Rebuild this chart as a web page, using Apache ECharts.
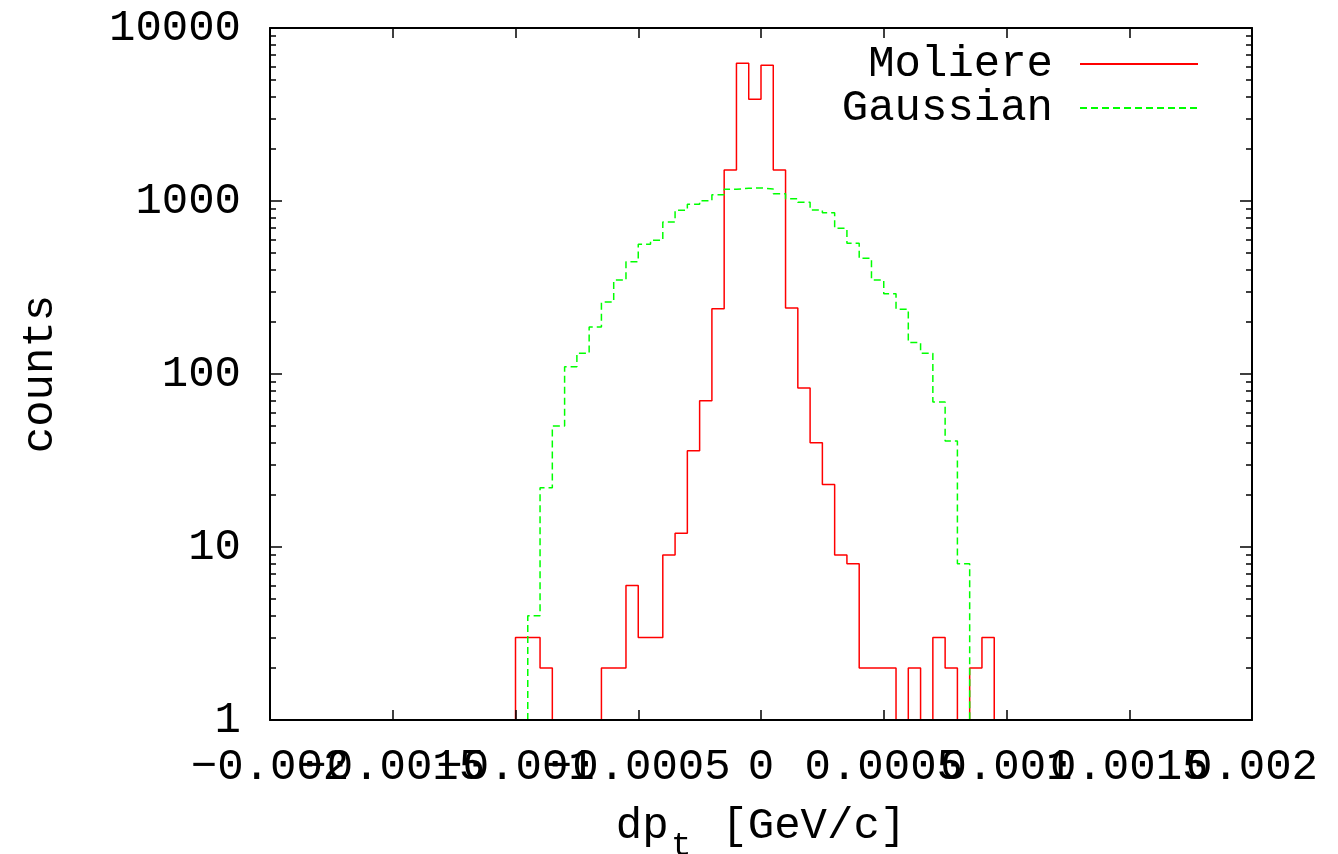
<!DOCTYPE html>
<html>
<head>
<meta charset="utf-8">
<script src="https://cdn.jsdelivr.net/npm/echarts@6/dist/echarts.min.js"></script>
<style>
  html, body { margin: 0; padding: 0; background: #fff; }
  #chart { width: 1338px; height: 854px; }
</style>
</head>
<body>
<div id="chart"></div>
<script>
// histogram bins (lower edges start at *Start, width binWidth)
const binWidth = 0.00005;
const moliereStart = -0.001;
const moliereCounts = [3, 3, 2, 1, 1, 1, 1, 2, 2, 6, 3, 3, 9, 12, 36, 70, 238, 1510, 6250, 3870,
  6090, 1510, 241, 83, 40, 23, 9, 8, 2, 2, 2, 1, 2, 1, 3, 2, 1, 2, 3];
const gaussianStart = -0.00095;
const gaussianCounts = [4, 22, 50, 110, 132, 187, 261, 349, 446, 562, 593, 756, 884, 957, 1004,
  1087, 1169, 1184, 1190, 1175, 1102, 1031, 983, 887, 856, 695, 570, 466, 349, 291, 237, 152,
  132, 69, 41, 8];

// tick labels; x labels split in two rows of values so none get dropped
const xLabelsEven = [-0.002, -0.001, 0, 0.001, 0.002];
const xLabelsOdd = [-0.0015, -0.0005, 0.0005, 0.0015];
const yMajorTicks = [1, 10, 100, 1000, 10000];
const yMinorTicks = [2, 3, 4, 5, 6, 7, 8, 9, 20, 30, 40, 50, 60, 70, 80, 90,
  200, 300, 400, 500, 600, 700, 800, 900, 2000, 3000, 4000, 5000, 6000, 7000, 8000, 9000];

const FONT = "Liberation Mono";
const FS = 44;

// turn bin counts into points for a step line
function toSteps(start, counts) {
  const pts = [[start, 1]];
  counts.forEach((c, i) => pts.push([start + i * binWidth, c]));
  pts.push([start + counts.length * binWidth, 1]);
  return pts;
}

function xAxisOf(position, showLine, labels, withName) {
  return {
    type: "value",
    position: position,
    min: -0.002,
    max: 0.002,
    interval: 0.0005,
    z: 5,
    axisLine: { show: showLine, onZero: false, lineStyle: { color: "#000", width: 2 } },
    axisTick: { show: showLine, inside: true, length: 10, lineStyle: { color: "#000", width: 1.5 } },
    axisLabel: {
      show: !!labels,
      customValues: labels || undefined,
      hideOverlap: false,
      margin: 25,
      color: "#000",
      fontFamily: FONT,
      fontSize: FS,
      formatter: v => String(+Number(v).toFixed(4)).replace("-", "\u2212")
    },
    splitLine: { show: false },
    // the subscript "t" is added as a separate text below
    name: withName ? "dp  [GeV/c]" : "",
    nameLocation: "middle",
    nameGap: 84,
    nameTextStyle: { color: "#000", fontFamily: FONT, fontSize: FS }
  };
}

function yAxisOf(position, ticks, len, showLine, showLabels) {
  return {
    type: "log",
    logBase: 10,
    position: position,
    min: 1,
    max: 10000,
    z: 5,
    axisLine: { show: showLine, onZero: false, lineStyle: { color: "#000", width: 2 } },
    axisTick: { show: true, inside: true, length: len, customValues: ticks,
                lineStyle: { color: "#000", width: 1.5 } },
    axisLabel: {
      show: showLabels,
      customValues: yMajorTicks,
      margin: 29,
      color: "#000",
      fontFamily: FONT,
      fontSize: FS,
      formatter: v => String(Math.round(v))
    },
    splitLine: { show: false },
    minorTick: { show: false },
    name: showLabels ? "counts" : "",
    nameLocation: "middle",
    nameGap: 208,
    nameTextStyle: { color: "#000", fontFamily: FONT, fontSize: FS }
  };
}

const chart = echarts.init(document.getElementById("chart"));
chart.setOption({
  animation: false,
  backgroundColor: "#fff",
  grid: { left: 270, right: 86, top: 28, bottom: 134, outerBoundsMode: "none" },
  legend: {
    orient: "vertical",
    align: "right",
    right: 134,
    top: 37,
    itemWidth: 118,
    itemHeight: 43,
    itemGap: 0,
    selectedMode: false,
    itemStyle: { opacity: 0 },
    textStyle: { color: "#000", fontFamily: FONT, fontSize: FS, lineHeight: 43, padding: [0, 22, 0, 0] },
    data: ["Moliere", "Gaussian"]
  },
  graphic: [
    {
      type: "text",
      left: 671,
      top: 829,
      style: { text: "t", fill: "#000", font: "34px 'Liberation Mono'" }
    }
  ],
  xAxis: [
    xAxisOf("bottom", true, xLabelsEven, true),
    xAxisOf("top", true, null, false),
    xAxisOf("bottom", false, xLabelsOdd, false)
  ],
  yAxis: [
    yAxisOf("left", yMajorTicks, 12, true, true),
    yAxisOf("left", yMinorTicks, 6, false, false),
    yAxisOf("right", yMajorTicks, 12, true, false),
    yAxisOf("right", yMinorTicks, 6, false, false)
  ],
  series: [
    {
      name: "Moliere",
      type: "line",
      step: "end",
      symbol: "none",
      data: toSteps(moliereStart, moliereCounts),
      lineStyle: { color: "#ff0000", width: 1.5 },
      itemStyle: { color: "#ff0000" }
    },
    {
      name: "Gaussian",
      type: "line",
      step: "end",
      symbol: "none",
      data: toSteps(gaussianStart, gaussianCounts),
      lineStyle: { color: "#00ff00", width: 1.5, type: [7, 4] },
      itemStyle: { color: "#00ff00" }
    }
  ]
});
</script>
</body>
</html>
